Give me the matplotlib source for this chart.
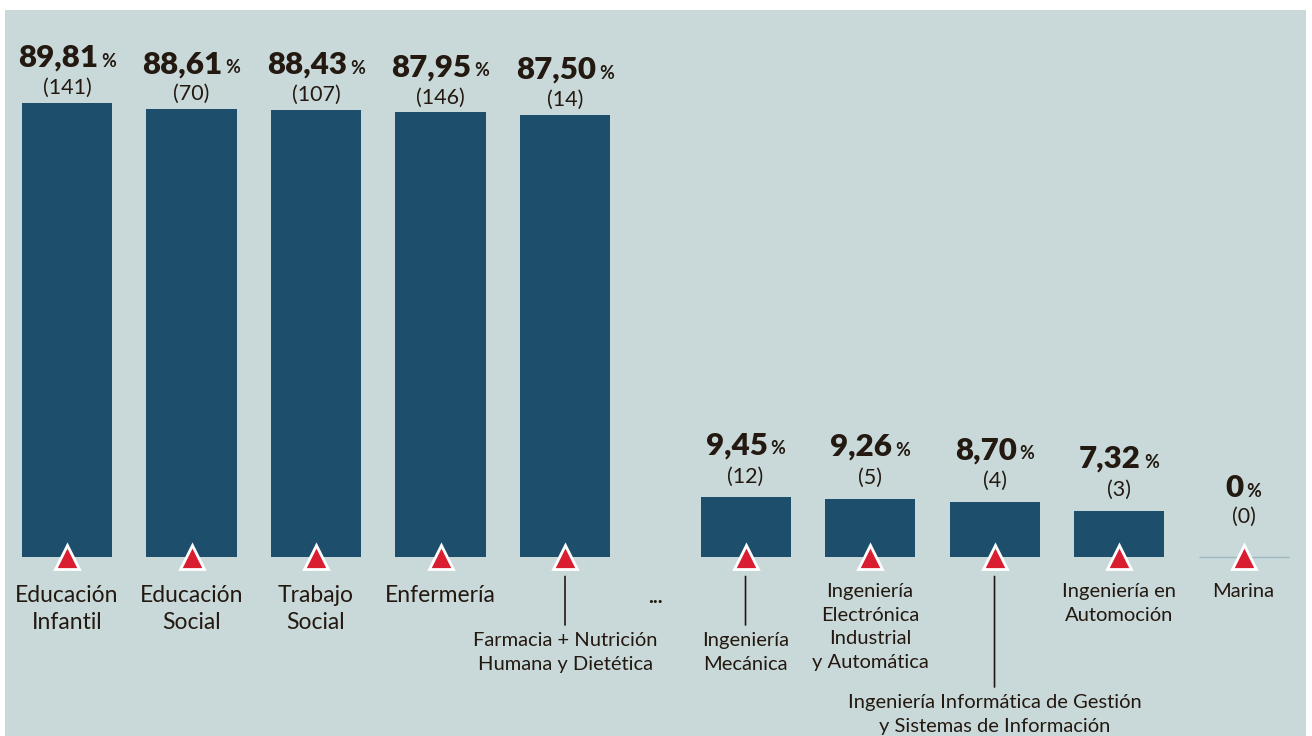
import numpy as np
import matplotlib.pyplot as plt

# titulaciones y datos
carreras = ["Educación\nInfantil", "Educación\nSocial", "Trabajo\nSocial", "Enfermería",
            "Farmacia + Nutrición\nHumana y Dietética", "Ingeniería\nMecánica",
            "Ingeniería\nElectrónica\nIndustrial\ny Automática",
            "Ingeniería Informática de Gestión\ny Sistemas de Información",
            "Ingeniería en\nAutomoción", "Marina"]
porcentaje = [89.81, 88.61, 88.43, 87.95, 87.50, 9.45, 9.26, 8.70, 7.32, 0]
alumnas = [141, 70, 107, 146, 14, 12, 5, 4, 3, 0]

BG = "#c9d9da"
BAR = "#1d4e6b"
RED = "#d81e30"
INK = "#231910"
PT = 0.72  # px -> pt at dpi 100

plt.rcParams["font.family"] = ["Lato", "DejaVu Sans"]

fig = plt.figure(figsize=(13.12, 7.36), dpi=100)
ax = fig.add_axes([5 / 1312, 0, 1301 / 1312, 726 / 736])
ax.set_facecolor(BG)
ax2 = ax.twinx()
for a in (ax, ax2):
    for s in a.spines.values():
        s.set_visible(False)
    a.set_xticks([])
    a.set_yticks([])

# two groups, the right one drawn with its own vertical scale
idx = np.arange(len(porcentaje))
x = idx + np.where(idx >= 5, 0.45, 0.0)
w = 0.723
ax.set_xlim(-0.498, -0.498 + 1301 / 124.5)
ax.set_ylim(-179 / 5.055, 547 / 5.055)
ax2.set_ylim(-179 / 6.3, 547 / 6.3)

left = idx < 5
ax.bar(x[left], np.array(porcentaje)[left], width=w, color=BAR, zorder=2)
ax2.bar(x[~left], np.array(porcentaje)[~left], width=w, color=BAR, zorder=2)
for i in idx[~left]:
    if porcentaje[i] == 0:
        ax2.hlines(0, x[i] - w / 2, x[i] + w / 2, color="#9db6bf", lw=1, zorder=2)

ax2.plot(x, np.zeros(len(x)), "^", ms=17, mfc=RED, mec="white", mew=2,
         zorder=5, clip_on=False)

# value labels
pairs = []
for i in idx:
    a = ax if i < 5 else ax2
    v = porcentaje[i]
    off_v, off_c = (36, 9) if i < 5 else (43, 15)
    if v == 0:
        off_v += 17
        off_c += 19
    txt = "0" if v == 0 else f"{v:.2f}".replace(".", ",")
    t1 = a.annotate(txt, (x[i], v), xytext=(0, off_v * PT), textcoords="offset points",
                    ha="left", va="baseline", fontsize=22.5, fontweight="heavy", color=INK)
    t2 = a.annotate("%", (x[i], v), xytext=(0, off_v * PT), textcoords="offset points",
                    ha="left", va="baseline", fontsize=13, fontweight="bold", color=INK)
    a.annotate(f"({alumnas[i]})", (x[i], v), xytext=(0, off_c * PT), textcoords="offset points",
               ha="center", va="baseline", fontsize=15.5, color=INK)
    pairs.append((t1, t2, off_v))

r = fig.canvas.get_renderer()
for t1, t2, off_v in pairs:
    w1 = t1.get_window_extent(r).width
    w2 = t2.get_window_extent(r).width
    tot = w1 + 3 + w2
    t1.xyann = (-tot / 2 * PT, off_v * PT)
    t2.xyann = ((-tot / 2 + w1 + 3) * PT, off_v * PT)

# category labels under the baseline: (px below, font size, line spacing, leader line)
estilo = [(28, 16.5, 1.35, False), (28, 16.5, 1.35, False), (28, 16.5, 1.35, False),
          (28, 16.5, 1.35, False), (75, 14.5, 1.47, True), (75, 14.5, 1.47, True),
          (26, 14.5, 1.47, False), (137, 14.5, 1.47, True), (26, 14.5, 1.47, False),
          (26, 14.5, 1.47, False)]
for i in idx:
    off, fs, ls, lead = estilo[i]
    kw = {}
    if lead:
        kw["arrowprops"] = dict(arrowstyle="-", color=INK, lw=1.2, shrinkA=3, shrinkB=14)
    ax.annotate(carreras[i], (x[i], 0), xytext=(0, -off * PT), textcoords="offset points",
                ha="center", va="top", fontsize=fs, color=INK, linespacing=ls, **kw)

ax.annotate("...", ((x[4] + x[5]) / 2, 0), xytext=(0, -40 * PT), textcoords="offset points",
            ha="center", va="center", fontsize=15, fontweight="bold", color=INK)

fig.savefig("out.png", dpi=100, facecolor="white")
